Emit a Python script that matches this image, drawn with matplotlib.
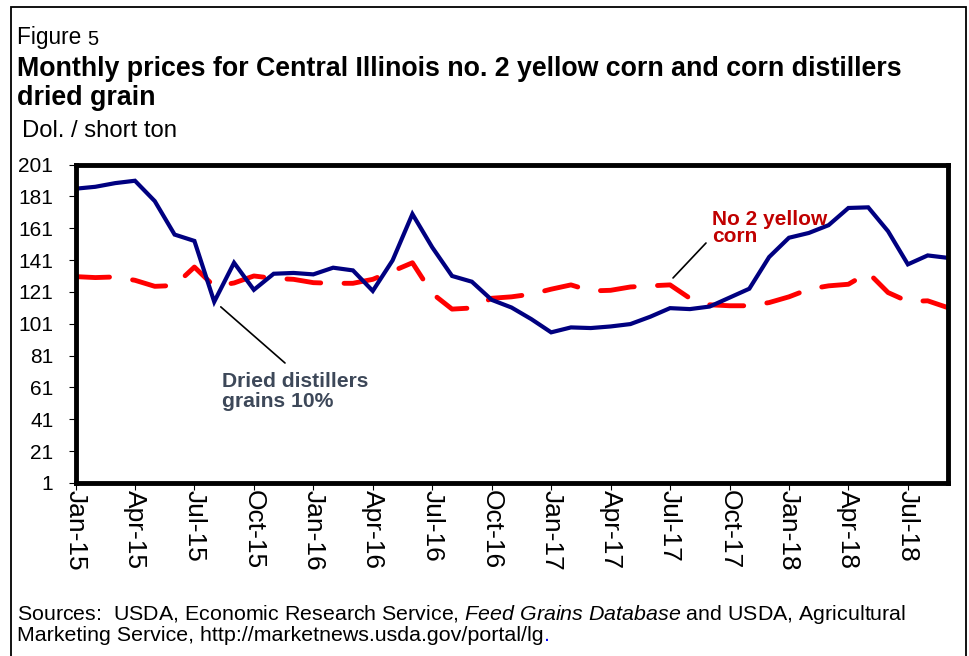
import matplotlib
matplotlib.use("Agg")
import matplotlib.pyplot as plt
from matplotlib.patches import Rectangle

plt.rcParams['font.family'] = ['Liberation Sans', 'DejaVu Sans']
plt.rcParams['mathtext.fontset'] = 'custom'
plt.rcParams['mathtext.rm'] = 'Liberation Sans'
plt.rcParams['mathtext.it'] = 'Liberation Sans:italic'

W, H = 969, 656

# monthly data, Jan-15 .. Sep-18
months = ['Jan', 'Feb', 'Mar', 'Apr', 'May', 'Jun', 'Jul', 'Aug', 'Sep', 'Oct', 'Nov', 'Dec']
labels = [f"{m}-{y}" for y in range(15, 19) for m in months][:45]

ddgs = [185.8, 187.0, 189.3, 190.8, 178.0, 157.0, 153.0, 114.8, 139.3, 122.3, 132.4, 132.9,
        132.0, 136.2, 134.5, 121.6, 140.8, 169.9, 149.0, 131.0, 127.4, 116.0, 111.2, 103.9,
        95.6, 98.7, 98.3, 99.3, 100.8, 105.4, 110.8, 110.2, 111.8, 117.4, 123.0, 142.9,
        155.0, 158.0, 162.9, 173.7, 174.1, 159.1, 138.3, 143.9, 142.4]

corn = [130.6, 130.0, 130.4, 128.3, 124.5, 125.0, 136.6, 124.5, 126.6, 131.0, 129.5, 128.9,
        126.8, 126.4, 126.4, 128.9, 134.0, 139.3, 120.0, 110.2, 110.9, 117.0, 117.9, 119.6,
        122.7, 125.4, 121.6, 122.0, 124.1, 124.8, 125.4, 117.0, 112.9, 112.3, 112.3, 114.3,
        117.9, 122.7, 124.8, 125.8, 133.1, 120.6, 115.0, 115.4, 111.2]

yticks = list(range(1, 202, 20))

fig = plt.figure(figsize=(W / 100, H / 100), dpi=100)
ax = fig.add_axes([75.5 / W, 1 - 483 / H, 872 / W, (483 - 164.5) / H])

x = list(range(len(ddgs)))
ax.plot(x, ddgs, color='#000080', lw=3.0, solid_joinstyle='miter', zorder=3)
ax.plot(x, corn, color='#ff0000', lw=3.5, dashes=(7.0, 4.8), dash_capstyle='round', zorder=2)

ax.set_xlim(0, len(ddgs) - 1)
ax.set_ylim(1, 201)
ax.set_yticks(yticks)
ax.set_xticks(x[::3])
ax.set_xticklabels(labels[::3], rotation=-90, fontsize=19)
ax.tick_params(axis='y', labelsize=15, length=5, width=0.8, pad=11)
ax.tick_params(axis='x', length=5, width=0.8, pad=0)
for s in ax.spines.values():
    s.set_linewidth(3.5)
    s.set_zorder(5)

# annotations
ax.annotate('', xy=(7.33, 111.6), xytext=(285, H - 363), textcoords='figure pixels',
            arrowprops=dict(arrowstyle='-', color='black', lw=1.2, shrinkA=0, shrinkB=0))
fig.text(222 / W, 1 - 372 / H, 'Dried distillers\ngrains 10%', fontsize=15.2, fontweight='bold',
         color='#3d4859', va='top', ha='left', linespacing=1.05)
ax.annotate('', xy=(30.15, 129.75), xytext=(706, H - 243), textcoords='figure pixels',
            arrowprops=dict(arrowstyle='-', color='black', lw=1.2, shrinkA=0, shrinkB=0))
fig.text(712 / W, 1 - 210 / H, 'No 2 yellow\ncorn', fontsize=15, fontweight='bold',
         color='#c00000', va='top', ha='left', linespacing=0.85)

# header text
t_fig = fig.text(17 / W, 1 - 44 / H, 'Figure ', fontsize=16.3, va='baseline')
ax.annotate('5', xy=(1, 0), xycoords=t_fig, fontsize=14.5, va='bottom', ha='left',
            annotation_clip=False)
fig.text(17 / W, 1 - 76 / H, 'Monthly prices for Central Illinois no. 2 yellow corn and corn distillers',
         fontsize=19.3, fontweight='bold', va='baseline')
fig.text(17 / W, 1 - 105 / H, 'dried grain', fontsize=19.3, fontweight='bold', va='baseline')
fig.text(22 / W, 1 - 137 / H, 'Dol. / short ton', fontsize=17.2, va='baseline')

# sources
fig.text(17 / W, 1 - 620 / H,
         r'Sources:  USDA, Economic Research Service, $\mathit{Feed\ Grains\ Database}$ and USDA, Agricultural',
         fontsize=15.4, va='baseline')
t_src = fig.text(17 / W, 1 - 641 / H, 'Marketing Service, http://marketnews.usda.gov/portal/lg',
                 fontsize=15.4, va='baseline')
ax.annotate('.', xy=(1, 0), xycoords=t_src, fontsize=15.4, color='#0000ff', va='bottom',
            ha='left', annotation_clip=False)

# outer frame
fig.patches.append(Rectangle((11 / W, -0.02), (966 - 11) / W, 1.02 - 7 / H, transform=fig.transFigure,
                             fill=False, edgecolor='black', lw=1.3))

fig.savefig('out.png', dpi=100)
